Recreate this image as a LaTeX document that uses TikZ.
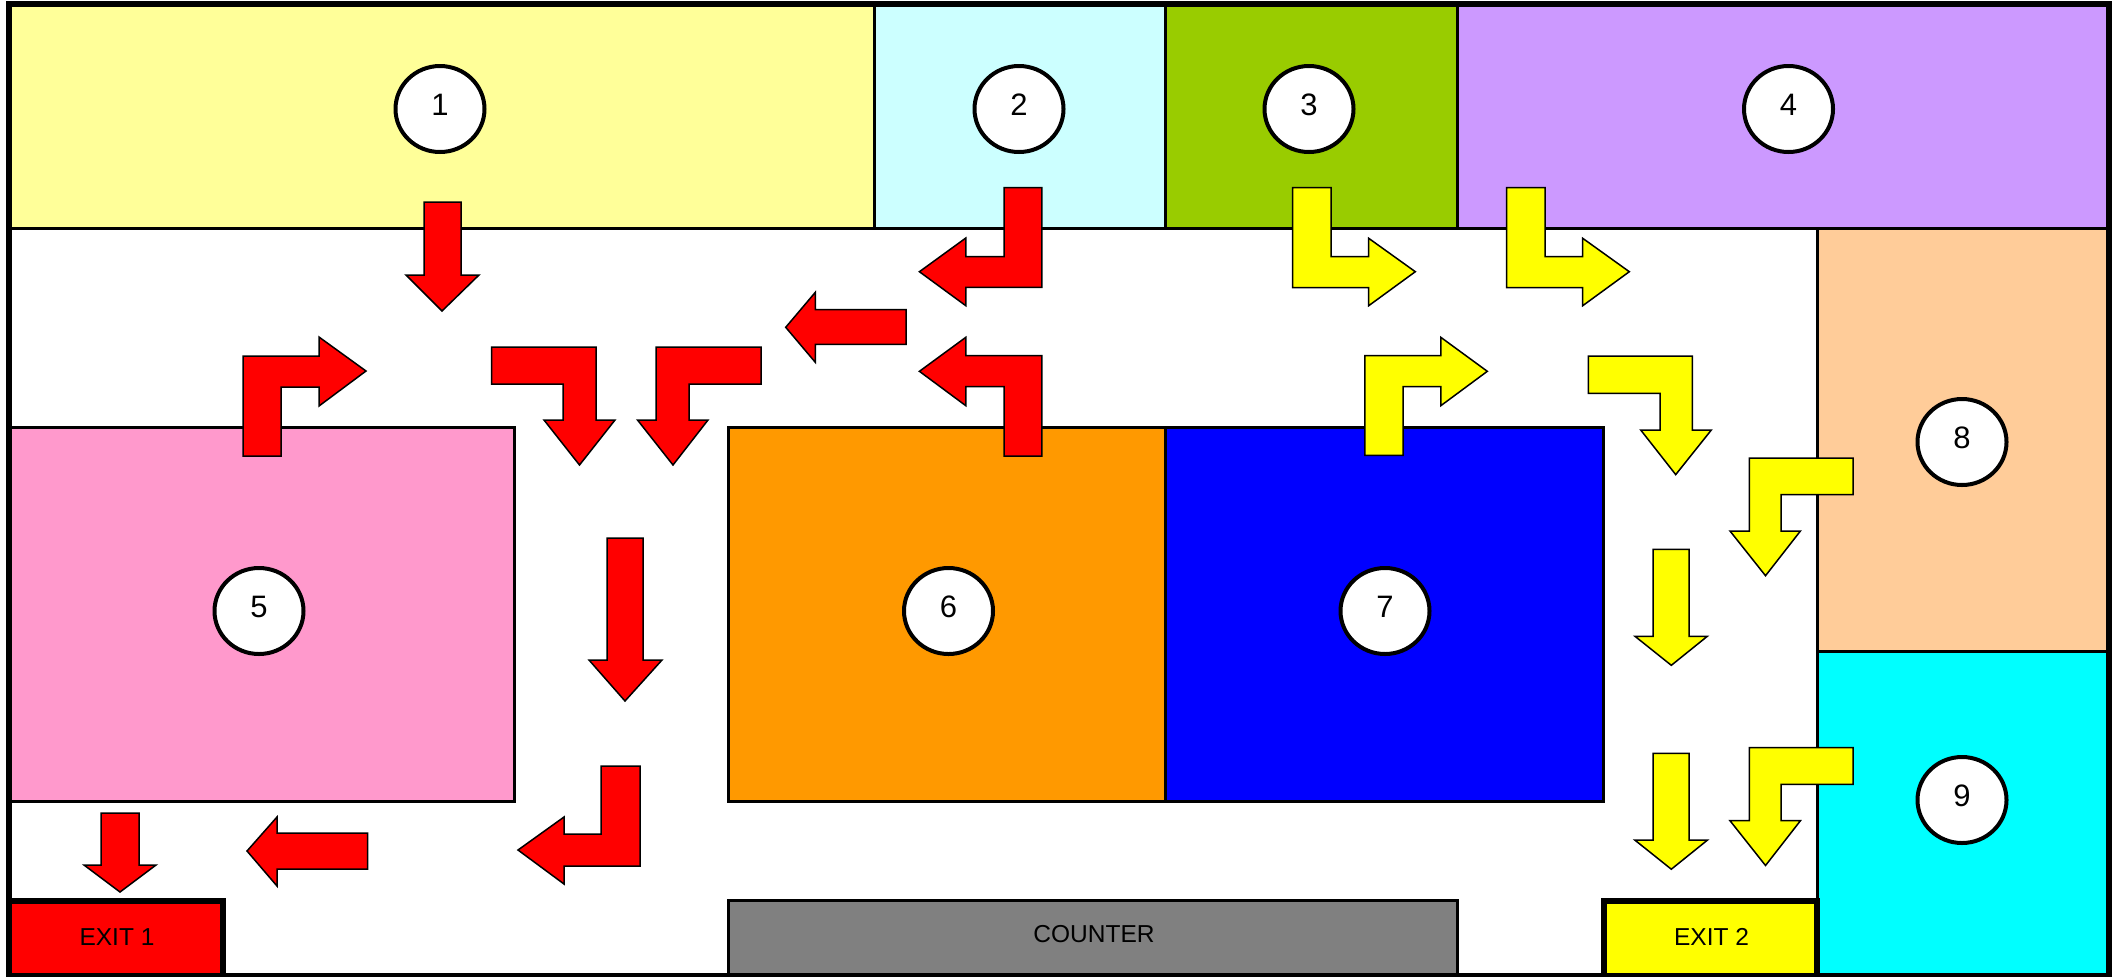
\documentclass[tikz,border=0pt]{standalone}
\usepackage{fontspec}
\setmainfont{Liberation Sans}
\usetikzlibrary{shapes.geometric}
\definecolor{roomA}{HTML}{FFFF99}
\definecolor{roomB}{HTML}{CCFFFF}
\definecolor{roomC}{HTML}{99CC00}
\definecolor{roomD}{HTML}{CC99FF}
\definecolor{roomE}{HTML}{FF99CC}
\definecolor{roomF}{HTML}{FF9900}
\definecolor{roomG}{HTML}{0000FF}
\definecolor{roomH}{HTML}{FFCC99}
\definecolor{roomI}{HTML}{00FFFF}
\definecolor{counterfill}{HTML}{808080}
\definecolor{pureyellow}{HTML}{FFFF00}
\definecolor{purered}{HTML}{FF0000}
\tikzset{
  room/.style={draw=black,line width=1.5pt,miter limit=10},
  exitbox/.style={draw=black,line width=3pt},
  badge/.style={ellipse,draw=black,fill=white,line width=2pt,inner sep=0pt,outer sep=0pt,
    minimum width=44.5pt,minimum height=43pt,text height=11.2pt,text depth=4.6pt,
    font=\fontsize{15.5pt}{15.5pt}\selectfont},
  caption/.style={inner sep=0pt,font=\fontsize{12.25pt}{12.25pt}\selectfont},
  redflow/.style={draw=black,fill=purered,line width=0.75pt,line join=miter},
  yellowflow/.style={draw=black,fill=pureyellow,line width=0.75pt,line join=miter}
}
\begin{document}
\begin{tikzpicture}[x=0.5pt,y=-0.5pt]
\useasboundingbox (0,0) rectangle (2119,976);
\clip (0,0) rectangle (2119,976);
\fill[white] (0,0) rectangle (2119,976);
% rooms
\path[room,fill=roomA] (9,4) rectangle (874.5,228.5);
\path[room,fill=roomB] (874.5,4) rectangle (1165.5,228.5);
\path[room,fill=roomC] (1165.5,4) rectangle (1457.5,228.5);
\path[room,fill=roomD] (1457.5,4) rectangle (2109,228.5);
\path[room,fill=roomH] (1817.5,228.5) rectangle (2109,651);
\path[room,fill=roomI] (1817.5,651) rectangle (2109,976);
\path[room,fill=roomE] (9,427.5) rectangle (514.5,801.5);
\path[room,fill=roomF] (728.5,427.5) rectangle (1165.5,801.5);
\path[room,fill=roomG] (1165.5,427.5) rectangle (1603.5,801.5);
\path[room,fill=counterfill] (728.5,900.5) rectangle (1457.5,976);
% exits
\path[exitbox,fill=purered] (9,901) rectangle (223,980);
\path[exitbox,fill=pureyellow] (1603.5,901) rectangle (1817,980);
% outer wall
\draw[line width=3pt] (9,4) rectangle (2109,976);
% labels
\node[badge] (n1) at (440,109) {1};
\node[badge] (n2) at (1019,109) {2};
\node[badge] (n3) at (1309,109) {3};
\node[badge] (n4) at (1788.5,109) {4};
\node[badge] (n5) at (259,611) {5};
\node[badge] (n6) at (948.5,611) {6};
\node[badge] (n7) at (1385,611) {7};
\node[badge] (n8) at (1962,442) {8};
\node[badge] (n9) at (1962,800) {9};
\node[caption] (exitA) at (117,937) {EXIT 1};
\node[caption] (exitB) at (1711.5,937) {EXIT 2};
\node[caption] (counter) at (1094,934.5) {COUNTER};
% red flow
\draw[redflow] (424,202) -- (461,202) -- (461,275) -- (479,275) -- (442,311) -- (406,275) -- (424,275) -- cycle;
\draw[redflow] (243,456) -- (243,356) -- (319,356) -- (319,337) -- (366,371) -- (319,406) -- (319,387) -- (281,387) -- (281,456) -- cycle;
\draw[redflow] (491.5,347) -- (596,347) -- (596,420) -- (615,420) -- (579.5,465) -- (544,420) -- (563,420) -- (563,384) -- (491.5,384) -- cycle;
\draw[redflow] (761,347) -- (656,347) -- (656,420) -- (637.5,420) -- (673,465) -- (708,420) -- (689,420) -- (689,384) -- (761,384) -- cycle;
\draw[redflow] (1004,187.7) -- (1041.8,187.7) -- (1041.8,287.3) -- (965.8,287.3) -- (965.8,305.7) -- (919.4,271.7) -- (965.8,238) -- (965.8,256.7) -- (1004,256.7) -- cycle;
\draw[redflow] (906,309.7) -- (906,344.3) -- (815.3,344.3) -- (815.3,362.3) -- (785.7,327.3) -- (815.3,292.3) -- (815.3,309.7) -- cycle;
\draw[redflow] (1004,456) -- (1041.8,456) -- (1041.8,355.7) -- (965.8,355.7) -- (965.8,337.3) -- (919.4,371.3) -- (965.8,405.7) -- (965.8,386.7) -- (1004,386.7) -- cycle;
\draw[redflow] (607,538) -- (643,538) -- (643,660) -- (662,660) -- (625,701) -- (589,660) -- (607,660) -- cycle;
\draw[redflow] (601,766) -- (640,766) -- (640,866) -- (564,866) -- (564,884) -- (518,850) -- (564,817) -- (564,834) -- (601,834) -- cycle;
\draw[redflow] (367.5,833) -- (367.5,869) -- (277,869) -- (277,886) -- (247,851) -- (277,817) -- (277,833) -- cycle;
\draw[redflow] (101,813) -- (139,813) -- (139,865) -- (156,865) -- (120,892) -- (84,865) -- (101,865) -- cycle;
% yellow flow
\draw[yellowflow] (1292.7,187.7) -- (1331,187.7) -- (1331,256.7) -- (1368.7,256.7) -- (1368.7,238.3) -- (1415.3,271.7) -- (1368.7,305.7) -- (1368.7,287.7) -- (1292.7,287.7) -- cycle;
\draw[yellowflow] (1506.7,187.7) -- (1545,187.7) -- (1545,256.7) -- (1582.7,256.7) -- (1582.7,238.3) -- (1629.3,271.7) -- (1582.7,305.7) -- (1582.7,287.7) -- (1506.7,287.7) -- cycle;
\draw[yellowflow] (1364.8,455.3) -- (1364.8,355.7) -- (1440.8,355.7) -- (1440.8,337.3) -- (1487.3,371.3) -- (1440.8,405.7) -- (1440.8,386.7) -- (1403,386.7) -- (1403,455.3) -- cycle;
\draw[yellowflow] (1588.3,356) -- (1692.3,356) -- (1692.3,430) -- (1711.3,430) -- (1675.7,474.6) -- (1640.7,430) -- (1660,430) -- (1660,393.3) -- (1588.3,393.3) -- cycle;
\draw[yellowflow] (1853,458.2) -- (1853,494.6) -- (1781,494.6) -- (1781,531) -- (1800.4,531) -- (1765.5,575.7) -- (1730,531) -- (1749.4,531) -- (1749.4,458.2) -- cycle;
\draw[yellowflow] (1653,549.4) -- (1689,549.4) -- (1689,636.3) -- (1707.3,636.3) -- (1671.3,665.3) -- (1635,636.3) -- (1653,636.3) -- cycle;
\draw[yellowflow] (1653,753.3) -- (1689,753.3) -- (1689,840.2) -- (1707.3,840.2) -- (1671.3,869.2) -- (1635,840.2) -- (1653,840.2) -- cycle;
\draw[yellowflow] (1853,747.5) -- (1853,784.3) -- (1781,784.3) -- (1781,820.7) -- (1800.4,820.7) -- (1765.5,865.5) -- (1730,820.7) -- (1749.4,820.7) -- (1749.4,747.5) -- cycle;
\end{tikzpicture}
\end{document}
